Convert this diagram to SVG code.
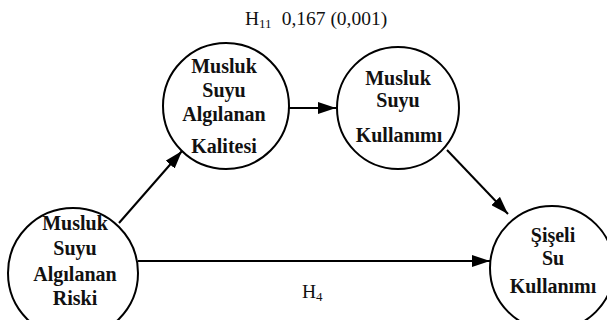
<svg xmlns="http://www.w3.org/2000/svg" width="607" height="320" viewBox="0 0 607 320">
<defs>
<style>
.node{fill:#fff;stroke:#000;stroke-width:2}
.lbl{font-family:"Liberation Serif",serif;font-weight:bold;font-size:20px;text-anchor:middle;fill:#111}
.edge{stroke:#000;stroke-width:2;fill:none}
.t{font-family:"Liberation Serif",serif;font-size:19.5px;fill:#111}
</style>
<marker id="ah" viewBox="0 0 18 12" refX="18" refY="6" markerWidth="18" markerHeight="12" markerUnits="userSpaceOnUse" orient="auto">
<path d="M0,0 L18,6 L0,12 z" fill="#000"/>
</marker>
</defs>
<rect width="607" height="320" fill="#fff"/>
<g id="connectors">
<line class="edge" x1="119" y1="223" x2="182" y2="151" marker-end="url(#ah)"/>
<line class="edge" x1="288" y1="108" x2="336" y2="108" marker-end="url(#ah)"/>
<line class="edge" x1="447" y1="150" x2="508" y2="214" marker-end="url(#ah)"/>
<line class="edge" x1="138" y1="261" x2="490" y2="261" marker-end="url(#ah)"/>
</g>
<g id="risk">
<circle class="node" cx="73" cy="273" r="65"/>
<text class="lbl" x="75" y="230">Musluk</text>
<text class="lbl" x="75" y="255">Suyu</text>
<text class="lbl" x="75" y="281">Algılanan</text>
<text class="lbl" x="75" y="305">Riski</text>
</g>
<g id="quality">
<circle class="node" cx="226" cy="106" r="63"/>
<text class="lbl" x="224" y="73">Musluk</text>
<text class="lbl" x="224" y="97">Suyu</text>
<text class="lbl" x="224" y="121">Algılanan</text>
<text class="lbl" x="224" y="153">Kalitesi</text>
</g>
<g id="usage">
<circle class="node" cx="398" cy="108" r="61"/>
<text class="lbl" x="398" y="85">Musluk</text>
<text class="lbl" x="398" y="107">Suyu</text>
<text class="lbl" x="399" y="142">Kullanımı</text>
</g>
<g id="bottled">
<circle class="node" cx="552" cy="268" r="62"/>
<text class="lbl" x="553" y="242">Şişeli</text>
<text class="lbl" x="553" y="265">Su</text>
<text class="lbl" x="553" y="293">Kullanımı</text>
</g>
<g id="labels">
<text class="t" x="245" y="25">H<tspan font-size="13" dy="3">11</tspan><tspan dy="-3" dx="10">0,167 (0,001)</tspan></text>
<text class="t" x="302" y="298">H<tspan font-size="13" dy="3">4</tspan></text>
</g>
</svg>
